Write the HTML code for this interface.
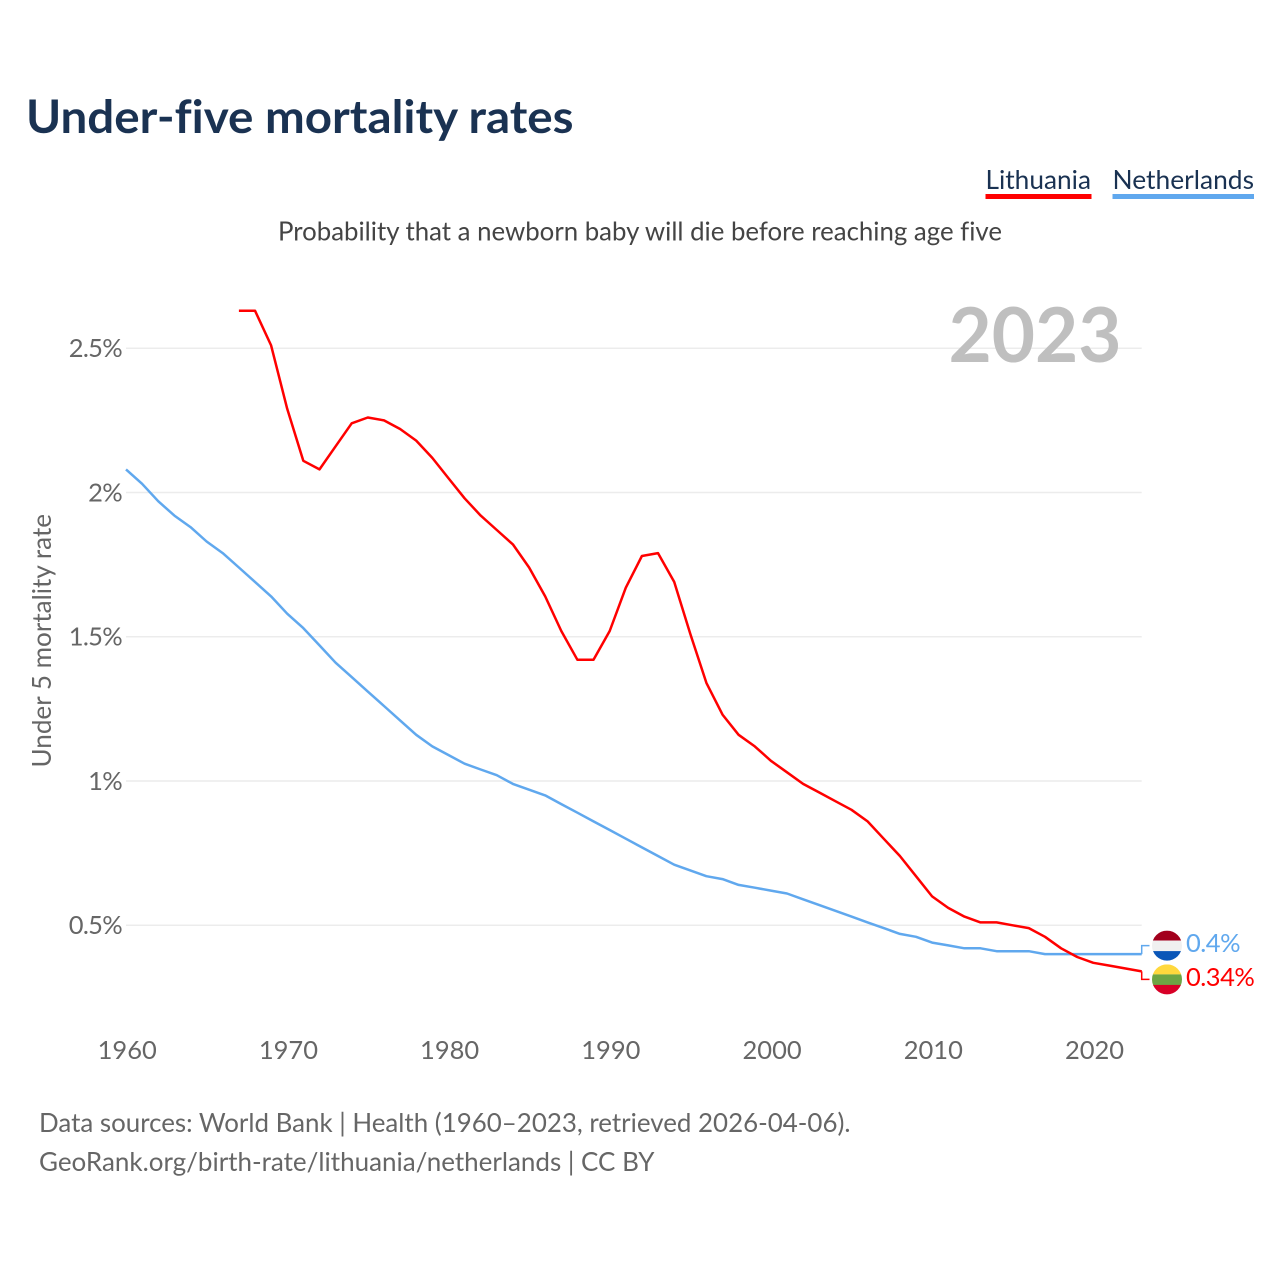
<!DOCTYPE html>
<html lang="en">
<head>
<meta charset="utf-8">
<title>Under-five mortality rates</title>
<style>
html,body{margin:0;padding:0;background:#fff;width:1280px;height:1280px;overflow:hidden}
svg{display:block}
text{font-family:"Lato","Carlito","Liberation Sans",sans-serif;font-variant-ligatures:none}
</style>
</head>
<body>
<svg id="chart" width="1280" height="1280" viewBox="0 0 1280 1280" xmlns="http://www.w3.org/2000/svg">
  <defs>
    <clipPath id="nl-clip"><circle id="nl-clip-c" r="15"></circle></clipPath>
    <clipPath id="lt-clip"><circle id="lt-clip-c" r="15"></circle></clipPath>
  </defs>
  <text x="26" y="133" font-size="46" font-weight="700" fill="#1a3252" textLength="547.500" lengthAdjust="spacingAndGlyphs">Under-five mortality rates</text>
  <g>
    <text x="985.500" y="189" font-size="26" fill="#1a3252" textLength="105.500" lengthAdjust="spacingAndGlyphs">Lithuania</text>
    <rect x="985.500" y="194" width="106" height="5" fill="#ff0000"></rect>
  </g>
  <g>
    <text x="1112.500" y="189" font-size="26" fill="#1a3252" textLength="141.500" lengthAdjust="spacingAndGlyphs">Netherlands</text>
    <rect x="1112.500" y="194" width="141.500" height="5" fill="#60a8ee"></rect>
  </g>
  <text x="278" y="240.500" font-size="26" fill="#444444" textLength="724" lengthAdjust="spacingAndGlyphs">Probability that a newborn baby will die before reaching age five</text>
  <text transform="translate(51,767.500) rotate(-90)" font-size="26" fill="#666666" textLength="253.500" lengthAdjust="spacingAndGlyphs">Under 5 mortality rate</text>
  <g id="grid"></g>
  <g id="y-ticks"></g>
  <g id="x-ticks"></g>
  <text id="year-label" x="1121.500" y="362" font-size="76" font-weight="700" fill="#bfbfbf" text-anchor="end" textLength="173" lengthAdjust="spacingAndGlyphs"></text>
  <path id="line-nl" fill="none" stroke="#60a8ee" stroke-width="2.500" stroke-linejoin="round"></path>
  <path id="line-lt" fill="none" stroke="#ff0000" stroke-width="2.500" stroke-linejoin="round"></path>
  <path id="conn-nl" fill="none" stroke="#60a8ee" stroke-width="1.500"></path>
  <path id="conn-lt" fill="none" stroke="#ff0000" stroke-width="1.500"></path>
  <g id="flag-nl" clip-path="url(#nl-clip)">
    <rect id="nl-1" x="1152" width="30" height="10" fill="#a2001d"></rect>
    <rect id="nl-2" x="1152" width="30" height="11" fill="#f0f0f0"></rect>
    <rect id="nl-3" x="1152" width="30" height="10" fill="#0a56b8"></rect>
  </g>
  <g id="flag-lt" clip-path="url(#lt-clip)">
    <rect id="lt-1" x="1152" width="30" height="10" fill="#ffd83d"></rect>
    <rect id="lt-2" x="1152" width="30" height="11" fill="#6da544"></rect>
    <rect id="lt-3" x="1152" width="30" height="10" fill="#d80027"></rect>
  </g>
  <text id="value-nl" x="1186" font-size="25.500" letter-spacing="-0.500" fill="#60a8ee"></text>
  <text id="value-lt" x="1186" font-size="25.500" letter-spacing="-0.500" fill="#ff0000"></text>
  <text x="39" y="1132" font-size="26" fill="#666666" textLength="811.500" lengthAdjust="spacingAndGlyphs">Data sources: World Bank | Health (1960–2023, retrieved 2026-04-06).</text>
  <text x="39" y="1171" font-size="26" fill="#666666" textLength="615.500" lengthAdjust="spacingAndGlyphs">GeoRank.org/birth-rate/lithuania/netherlands | CC BY</text>
</svg>
<script>
const xTickYears = [1960, 1970, 1980, 1990, 2000, 2010, 2020];
const yTickValues = [0.5, 1, 1.5, 2, 2.5];
const yTickLabels = ["0.5%", "1%", "1.5%", "2%", "2.5%"];
const netherlandsStartYear = 1960;
const netherlandsValues = [2.08, 2.03, 1.97, 1.92, 1.88, 1.83, 1.79, 1.74, 1.69, 1.64, 1.58, 1.53, 1.47, 1.41, 1.36, 1.31, 1.26, 1.21, 1.16, 1.12, 1.09, 1.06, 1.04, 1.02, 0.99, 0.97, 0.95, 0.92, 0.89, 0.86, 0.83, 0.80, 0.77, 0.74, 0.71, 0.69, 0.67, 0.66, 0.64, 0.63, 0.62, 0.61, 0.59, 0.57, 0.55, 0.53, 0.51, 0.49, 0.47, 0.46, 0.44, 0.43, 0.42, 0.42, 0.41, 0.41, 0.41, 0.40, 0.40, 0.40, 0.40, 0.40, 0.40, 0.40];
const lithuaniaStartYear = 1967;
const lithuaniaValues = [2.63, 2.63, 2.51, 2.29, 2.11, 2.08, 2.16, 2.24, 2.26, 2.25, 2.22, 2.18, 2.12, 2.05, 1.98, 1.92, 1.87, 1.82, 1.74, 1.64, 1.52, 1.42, 1.42, 1.52, 1.67, 1.78, 1.79, 1.69, 1.51, 1.34, 1.23, 1.16, 1.12, 1.07, 1.03, 0.99, 0.96, 0.93, 0.90, 0.86, 0.80, 0.74, 0.67, 0.60, 0.56, 0.53, 0.51, 0.51, 0.50, 0.49, 0.46, 0.42, 0.39, 0.37, 0.36, 0.35, 0.34];
const latestYear = 2023;

const SVGNS = 'http://www.w3.org/2000/svg';
function xScale(year) { return 126 + (year - 1960) * (1141.7 - 126) / 63; }
function yScale(v) { return 1069.5 - v * 288.5; }
function linePath(startYear, values) {
  return values.map(function (v, i) {
    return (i ? 'L' : 'M') + xScale(startYear + i).toFixed(1) + ' ' + yScale(v).toFixed(1);
  }).join(' ');
}
function byId(id) { return document.getElementById(id); }

const gridGroup = byId('grid');
const yTickGroup = byId('y-ticks');
const xTickGroup = byId('x-ticks');

yTickValues.forEach(function (v, i) {
  const gl = document.createElementNS(SVGNS, 'line');
  
  
  gl.setAttribute('x1', xScale(1960));
  gl.setAttribute('x2', xScale(2023));
  gl.setAttribute('y1', yScale(v));
  gl.setAttribute('y2', yScale(v));
  gl.setAttribute('stroke', '#ececec');
  gl.setAttribute('stroke-width', '1.5');
  gridGroup.appendChild(gl);

  const t = document.createElementNS(SVGNS, 'text');
  
  
  t.setAttribute('x', '122');
  t.setAttribute('y', yScale(v) + 8.75);
  t.setAttribute('text-anchor', 'end');
  t.setAttribute('font-size', '25.5');
  t.setAttribute('letter-spacing', '-0.7');
  t.setAttribute('fill', '#666666');
  t.textContent = yTickLabels[i];
  yTickGroup.appendChild(t);
});

xTickYears.forEach(function (year) {
  const t = document.createElementNS(SVGNS, 'text');
  
  
  t.setAttribute('x', xScale(year) + 1.2);
  t.setAttribute('y', '1059');
  t.setAttribute('text-anchor', 'middle');
  t.setAttribute('font-size', '25.5');
  t.setAttribute('fill', '#666666');
  t.textContent = String(year);
  xTickGroup.appendChild(t);
});

byId('year-label').textContent = String(latestYear);
byId('line-nl').setAttribute('d', linePath(netherlandsStartYear, netherlandsValues));
byId('line-lt').setAttribute('d', linePath(lithuaniaStartYear, lithuaniaValues));

function endMarker(code, value, offset) {
  const endY = yScale(value);
  const cy = endY + offset;
  const endX = xScale(latestYear);
  byId('conn-' + code).setAttribute('d', 'M' + endX + ' ' + endY + ' V' + cy + ' H1149.5');
  const clip = byId(code + '-clip-c');
  clip.setAttribute('cx', '1167');
  clip.setAttribute('cy', cy);
  byId(code + '-1').setAttribute('y', cy - 15);
  byId(code + '-2').setAttribute('y', cy - 5);
  byId(code + '-3').setAttribute('y', cy + 5.5);
  const label = byId('value-' + code);
  label.setAttribute('y', cy + 6.5);
  label.textContent = value + '%';
}
endMarker('nl', netherlandsValues[netherlandsValues.length - 1], -8.5);
endMarker('lt', lithuaniaValues[lithuaniaValues.length - 1], 8);
</script>
</body>
</html>
